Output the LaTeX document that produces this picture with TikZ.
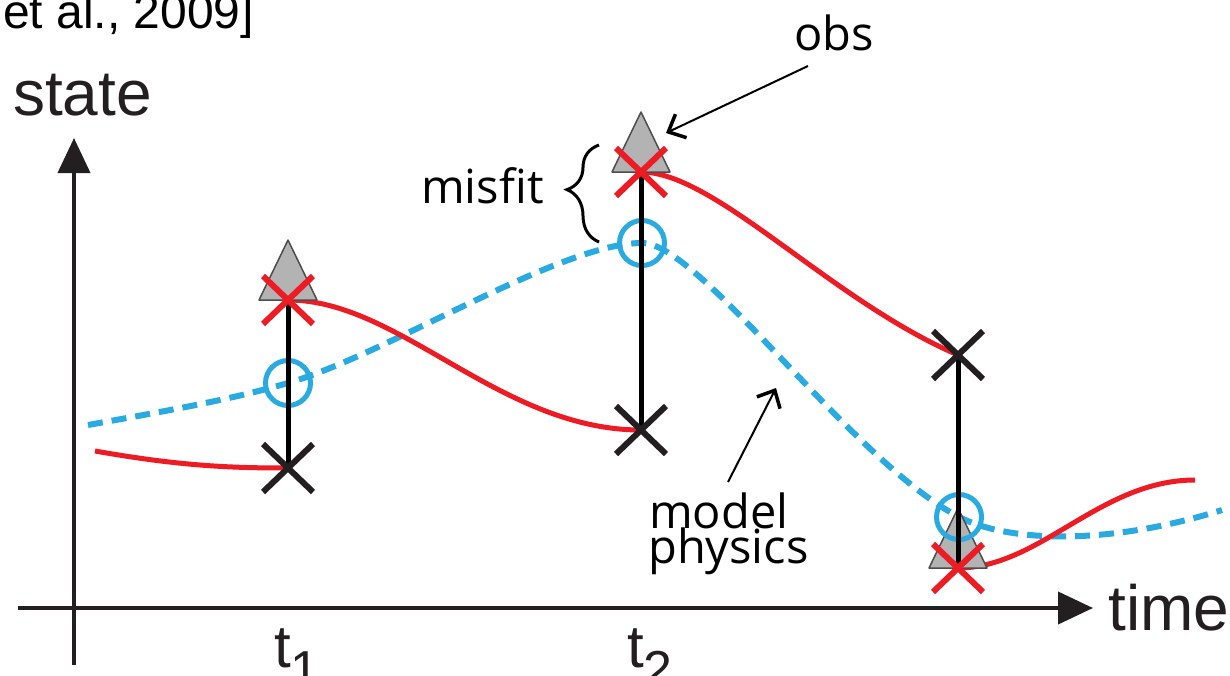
\documentclass[tikz,border=0pt]{standalone}
\usepackage{fontspec}
\setmainfont{Liberation Sans}
\newfontfamily\notefont{Open Sans}
\usetikzlibrary{arrows.meta, shapes.misc, decorations.pathreplacing}
\definecolor{truthblue}{HTML}{29ABE2}
\definecolor{fitred}{HTML}{ED1C24}
\definecolor{ink}{HTML}{231F20}
\definecolor{obsgray}{HTML}{B3B3B3}

\begin{document}
\begin{tikzpicture}[x=1pt, y=-1pt,
    timeaxis/.style={line width=4pt, ink, -{Triangle[length=35pt, width=32pt]}},
    axislabel/.style={anchor=base west, inner sep=0pt, text=ink, font=\fontsize{64}{64}\selectfont},
    note/.style={anchor=base west, inner sep=0pt, font=\notefont\fontsize{47}{47}\selectfont},
    pointer/.style={line width=2pt, -{Straight Barb[length=14pt, width=26pt, line width=3.5pt]}},
    fitline/.style={line width=5pt, fitred},
    modelline/.style={line width=6pt, truthblue, dash pattern=on 15pt off 9pt},
    obsmark/.style={fill=obsgray, draw=ink!80, line width=1.5pt, line join=round},
    modelmark/.style={circle, draw=truthblue, line width=5pt, minimum size=45pt, inner sep=0pt},
    crossmark/.style={cross out, draw=#1, line width=6pt, minimum width=50pt, minimum height=48pt, inner sep=0pt, outer sep=0pt}
]
    \useasboundingbox (0,0) rectangle (1230,675);

    % citation, cut at the top
    \node[anchor=base west, inner sep=0pt, font=\fontsize{48}{48}\selectfont] (cite) at (3,28) {et al., 2009]};

    % axes
    \coordinate (xfrom) at (18,608);
    \coordinate (xto) at (1093,608);
    \coordinate (yfrom) at (74,665);
    \coordinate (yto) at (74,138);
    \draw[timeaxis] (xfrom) -- (xto);
    \draw[timeaxis] (yfrom) -- (yto);
    \node[axislabel] (state) at (13,115) {state};
    \node[axislabel] (time) at (1108,630) {time};
    \node[axislabel, font=\fontsize{60}{60}\selectfont] (t1) at (274,667) {t\raisebox{-20pt}{\fontsize{52}{52}\selectfont 1}};
    \node[axislabel, font=\fontsize{60}{60}\selectfont] (t2) at (627,667) {t\raisebox{-20pt}{\fontsize{52}{52}\selectfont 2}};

    % analysis (a), forecast (f) and model (m) points at the three times
    \coordinate (a1) at (288,300);
    \coordinate (f1) at (288,468);
    \coordinate (m1) at (288,383);
    \coordinate (a2) at (641,172);
    \coordinate (f2) at (641,430);
    \coordinate (m2) at (642,243);
    \coordinate (a3) at (958,568);
    \coordinate (f3) at (958,355);
    \coordinate (m3) at (959,517);

    % model physics (dashed)
    \coordinate (mstart) at (88,425);
    \coordinate (mend) at (1222,510);
    \draw[modelline] (mstart) .. controls (160,412) and (230,400) .. (m1)
        .. controls (388,354) and (560,243) .. (m2)
        .. controls (700,243) and (850,460) .. (m3)
        .. controls (1010,543) and (1110,545) .. (mend);

    % fitted trajectory, restarted at each time
    \coordinate (rstart) at (95,451);
    \coordinate (rend) at (1195,480);
    \draw[fitline] (rstart) .. controls (180,466) and (230,468) .. (f1);
    \draw[fitline] (a1) .. controls (400,300) and (500,430) .. (f2);
    \draw[fitline] (a2) .. controls (715,172) and (830,300) .. (f3);
    \draw[fitline] (a3) .. controls (1040,568) and (1100,480) .. (rend);

    % observations
    \foreach \i in {1,2,3} {
        \draw[obsmark] (a\i) ++(-29,0) -- ++(58,0) -- ++(-29,-60) -- cycle;
    }
    \foreach \i in {1,2,3} {
        \node[modelmark] (mc\i) at (m\i) {};
    }
    % jumps
    \foreach \i in {1,2,3} {
        \draw[line width=5pt] (f\i) -- (a\i);
    }
    \foreach \i in {1,2,3} {
        \node[crossmark=ink] (fx\i) at (f\i) {};
        \node[crossmark=fitred] (ax\i) at (a\i) {};
    }

    % annotations
    \node[note] (obs) at (794,50) {obs};
    \coordinate (obsfrom) at (808,66);
    \coordinate (obsto) at (666,133);
    \draw[pointer] (obsfrom) -- (obsto);

    \node[note] (misfit) at (421,203) {misfit};
    \coordinate (bracelow) at (599,242);
    \coordinate (bracehigh) at (599,145);
    \draw[decorate, decoration={brace, amplitude=32pt, aspect=0.54}, line width=3pt] (bracelow) -- (bracehigh);

    \node[note] (model) at (649,528) {model};
    \node[note] (physics) at (648,563) {physics};
    \coordinate (physfrom) at (728,482);
    \coordinate (physto) at (776,388);
    \draw[pointer] (physfrom) -- (physto);
\end{tikzpicture}
\end{document}
